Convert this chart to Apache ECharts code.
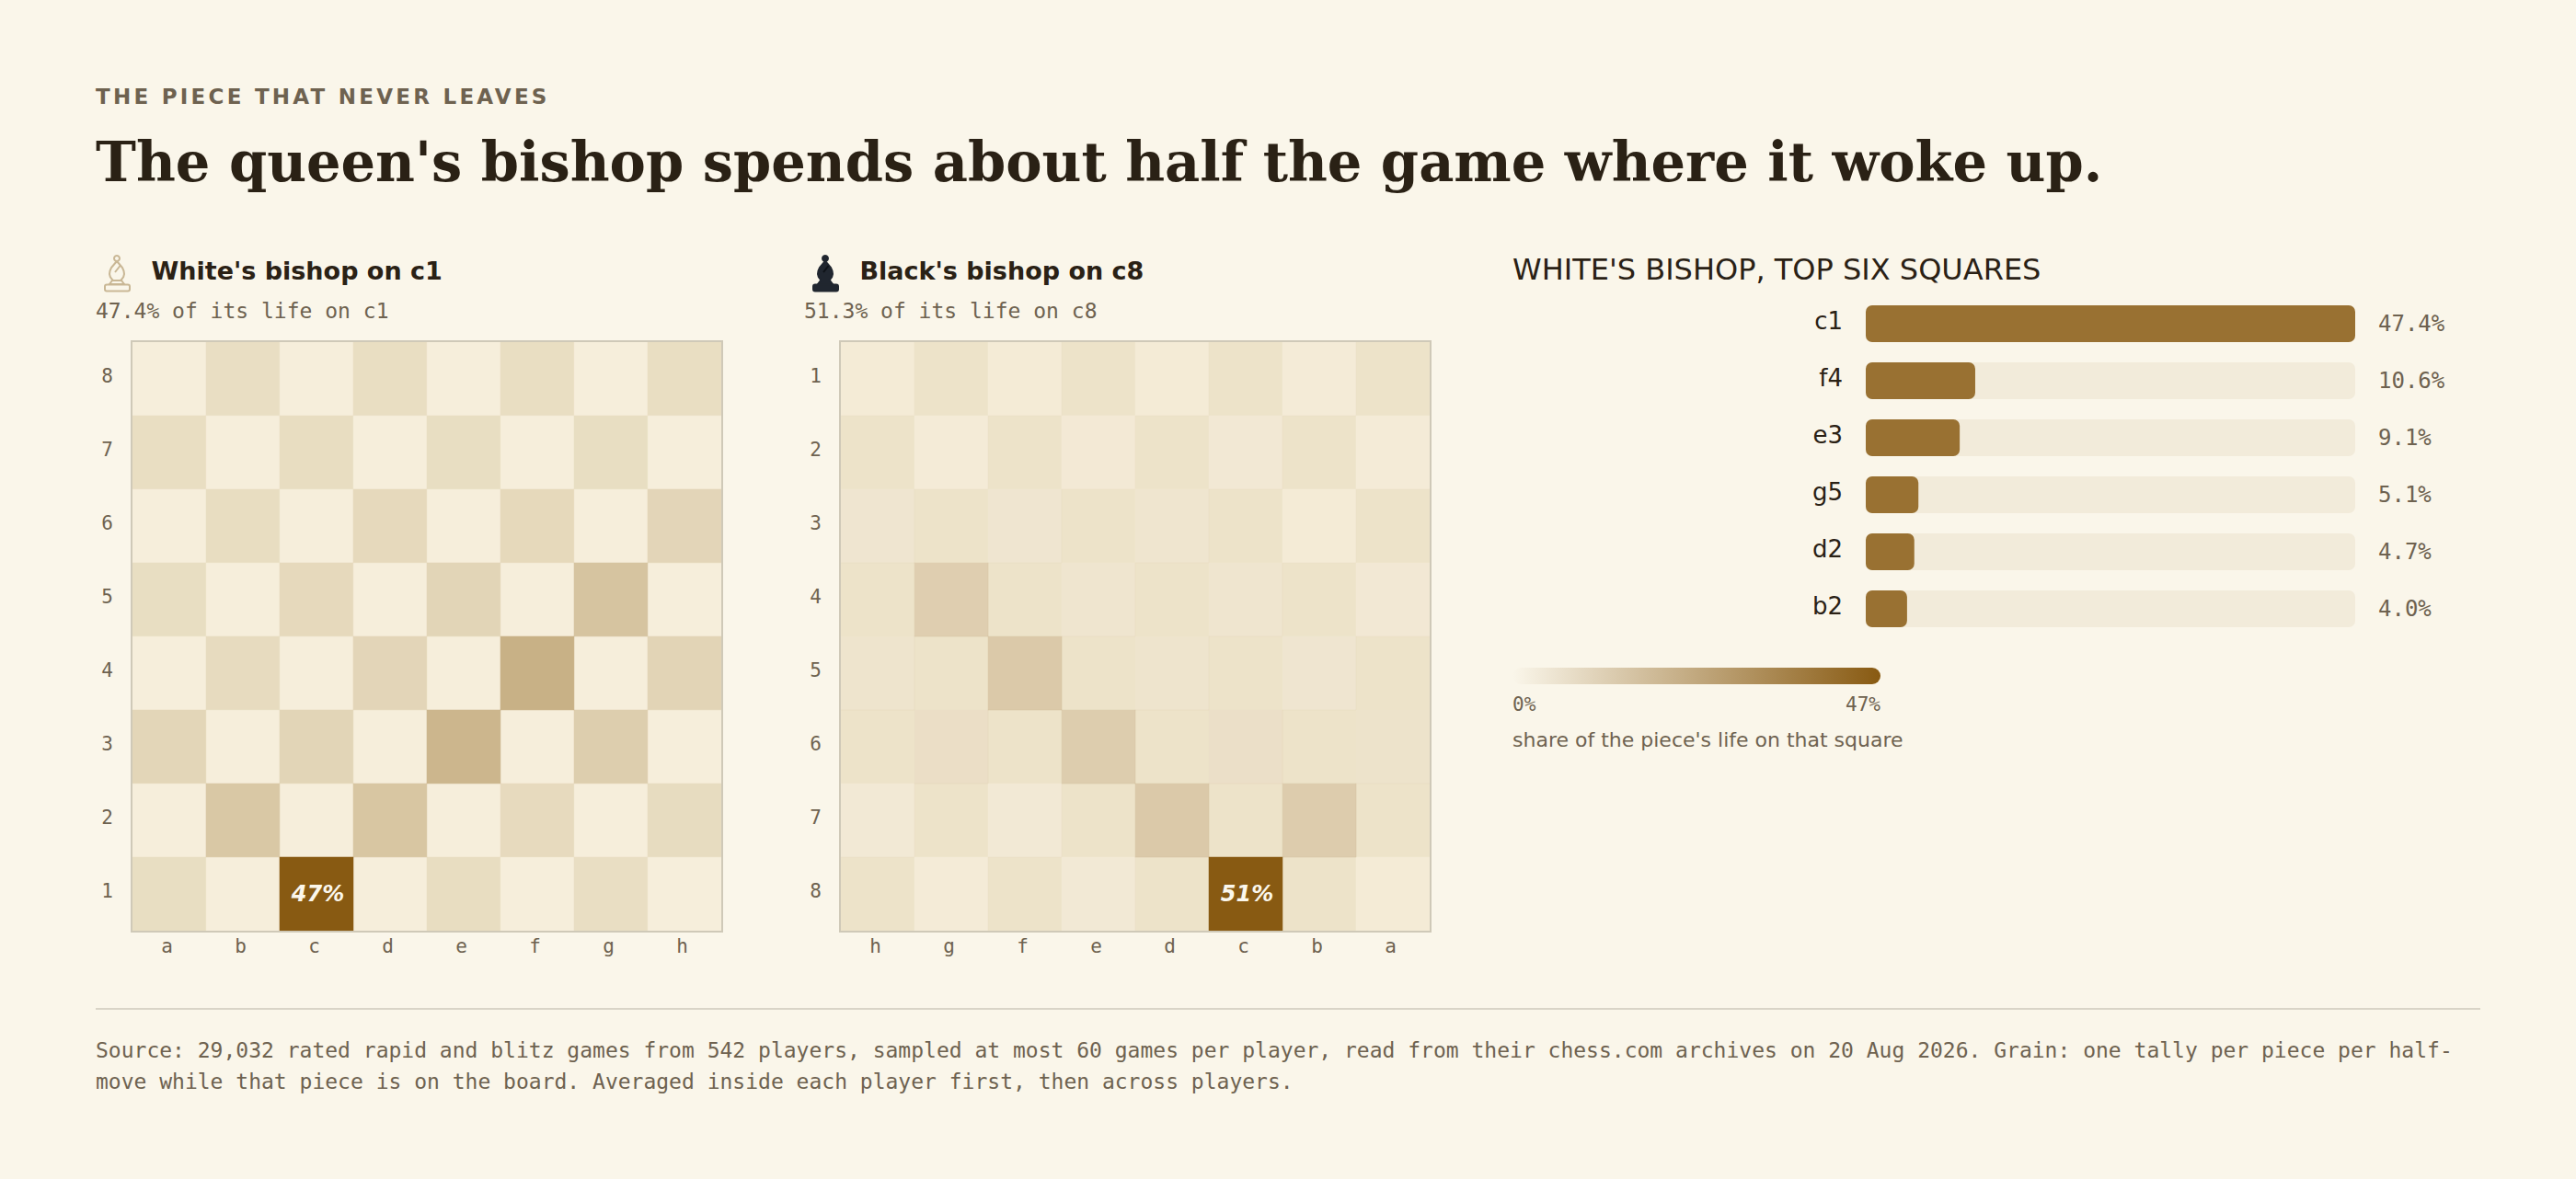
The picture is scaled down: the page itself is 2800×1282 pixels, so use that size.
<!DOCTYPE html>
<html><head><meta charset="utf-8">
<style>
html,body{margin:0;padding:0;background:#FAF6EA;width:2800px;height:1282px;overflow:hidden}
#c{position:absolute;left:0;top:0;width:2800px;height:1282px}
#k{position:absolute;left:104px;top:92px;font:bold 23px "DejaVu Sans";letter-spacing:3.25px;color:#6E6250;white-space:nowrap}
</style>
<script src="https://cdn.jsdelivr.net/npm/echarts@6/dist/echarts.min.js"></script>
</head><body>
<div id="c"></div>
<div id="k">THE PIECE THAT NEVER LEAVES</div>
<script>
const WHITE_FILES = ['a','b','c','d','e','f','g','h'];
const WHITE_RANKS = ['8','7','6','5','4','3','2','1'];
const BLACK_FILES = ['h','g','f','e','d','c','b','a'];
const BLACK_RANKS = ['1','2','3','4','5','6','7','8'];
const SHADE_ROWS = [
 [0,1,0,1,0,1,0,1],[1,0,1,0,1,0,1,0],[0,1,0,1,0,1,0,1],[1,0,1,0,1,0,1,0],
 [0,1,0,1,0,1,0,1],[1,0,1,0,1,0,1,0],[0,1,0,1,0,1,0,1],[1,0,1,0,1,0,1,0]];
const WHITE_SHARE = [
 [0,0.25,0,0.3,0,0.3,0,0.3],
 [0.3,0,0.45,0,0.4,0,0.35,0],
 [0,0.45,0,0.8,0,0.9,0,1.4],
 [0.4,0,0.8,0,1.5,0,5.1,0],
 [0,0.6,0,1.4,0,10.6,0,1.6],
 [1.3,0,1.5,0,9.1,0,2.8,0],
 [0,4.0,0,4.7,0,0.7,0,0.5],
 [0.35,0,47.4,0,0.45,0,0.25,0]];
const BLACK_SHARE = [
 [0.15,0,0.15,0,0.15,0,0.1,0],
 [0,0.1,0,0.2,0,0.3,0,0.1],
 [0.6,0,0.6,0,0.7,0,0.15,0],
 [0,4.7,0,0.7,0,0.7,0,0.3],
 [0.8,0,5.9,0,0.8,0,0.6,0],
 [0,1.6,0,5.1,0,1.4,0,1.0],
 [0.25,0,0.25,0,5.9,0,5.2,0],
 [0,0.1,0,0.25,0,51.3,0,0.15]];
const TOP_SQUARES = ['c1','f4','e3','g5','d2','b2'];
const TOP_SHARES = [47.4,10.6,9.1,5.1,4.7,4.0];
const SCALE_TOP = 47.4;

const INK='#2A2115', MUTED='#6E6250', BG='#FAF6EA';
const MONO='"DejaVu Sans Mono"', SANS='"DejaVu Sans"', SERIF='"DejaVu Serif"';

function cells(rows){const o=[];rows.forEach((r,y)=>r.forEach((v,x)=>o.push([x,y,v,Math.min(1,Math.pow(v/SCALE_TOP,0.67))])));return o;}
function boardGrid(left){return {left:left,top:372,width:640,height:640,show:false};}
function xAx(i,files){return {type:'category',gridIndex:i,data:files,position:'bottom',axisLine:{show:false},axisTick:{show:false},splitLine:{show:false},
  axisLabel:{margin:6,color:MUTED,fontFamily:MONO,fontSize:21,interval:0,padding:[0,5,0,0]}};}
function yAx(i,ranks){return {type:'category',gridIndex:i,data:ranks,inverse:true,axisLine:{show:false},axisTick:{show:false},splitLine:{show:false},
  axisLabel:{margin:21,color:MUTED,fontFamily:MONO,fontSize:21,interval:0,verticalAlign:'bottom',lineHeight:6}};}
function T(x,y,text,fs,ff,color,extra){return {type:'text',x:x,y:y,silent:true,z:20,style:Object.assign({text:text,fontSize:fs,fontFamily:ff,fill:color,verticalAlign:'middle',align:'left'},extra||{})};}
const BODY=[[127,284],[124,287.5],[121,291],[119.5,294.5],[119,298],[119.8,301],[122,304],[123,305],[131,305],[132,304],[134.2,301],[135,298],[134.5,294.5],[133,291],[130,287.5]];
function icon(dx,fill,stroke,slash){
  const ln={stroke:stroke,lineWidth:2,fill:fill};
  return {type:'group',x:dx,y:0,silent:true,z:20,children:[
    {type:'circle',shape:{cx:127,cy:281,r:3},style:ln},
    {type:'polygon',shape:{points:BODY},style:ln},
    {type:'polygon',shape:{points:[[122,305],[132,305],[135,309],[119,309]]},style:ln},
    {type:'rect',shape:{x:114,y:309.5,width:27,height:7,r:2},style:ln},
    {type:'line',shape:{x1:125,y1:296,x2:130.5,y2:289},style:{stroke:slash,lineWidth:2}}
  ]};
}
const cellLabel={show:true,formatter:p=>p.value[2]>=40?Math.round(p.value[2])+'%':'',color:'#FBF7EC',fontFamily:SANS,fontWeight:'bold',fontStyle:'italic',fontSize:24,padding:[0,0,0,3]};
const option={
 backgroundColor:BG,animation:false,
 grid:[boardGrid(144),boardGrid(914),{left:2028,top:321,width:532,height:372,show:false}],
 xAxis:[xAx(0,WHITE_FILES),xAx(1,BLACK_FILES),{type:'value',gridIndex:2,min:0,max:SCALE_TOP,show:false}],
 yAxis:[yAx(0,WHITE_RANKS),yAx(1,BLACK_RANKS),
  {type:'category',gridIndex:2,data:TOP_SQUARES,inverse:true,axisLine:{show:false},axisTick:{show:false},
   axisLabel:{margin:25,color:INK,fontFamily:SANS,fontSize:26,verticalAlign:'bottom',lineHeight:6}},
  {type:'category',gridIndex:2,position:'right',data:TOP_SHARES.map(v=>v.toFixed(1)+'%'),inverse:true,axisLine:{show:false},axisTick:{show:false},
   axisLabel:{margin:25,color:MUTED,fontFamily:MONO,fontSize:24,align:'left'}}],
 visualMap:[
  {show:false,type:'continuous',seriesIndex:[0,2],dimension:2,min:0,max:1,inRange:{color:['#F6EEDB','#EDE3C9']}},
  {show:false,type:'continuous',seriesIndex:[1,3],dimension:3,min:0,max:1,inRange:{color:['rgba(136,90,18,0)','rgba(136,90,18,1)']}}
 ],
 series:[
  {type:'heatmap',name:'white squares',xAxisIndex:0,yAxisIndex:0,data:cells(SHADE_ROWS),silent:true,itemStyle:{borderWidth:0}},
  {type:'heatmap',name:"White's bishop",xAxisIndex:0,yAxisIndex:0,data:cells(WHITE_SHARE),silent:true,itemStyle:{borderWidth:0},encode:{x:0,y:1},label:cellLabel},
  {type:'heatmap',name:'black squares',xAxisIndex:1,yAxisIndex:1,data:cells(SHADE_ROWS),silent:true,itemStyle:{borderWidth:0}},
  {type:'heatmap',name:"Black's bishop",xAxisIndex:1,yAxisIndex:1,data:cells(BLACK_SHARE),silent:true,itemStyle:{borderWidth:0},encode:{x:0,y:1},label:cellLabel},
  {type:'bar',name:'Top six',xAxisIndex:2,yAxisIndex:2,data:TOP_SHARES,barWidth:40,silent:true,
   itemStyle:{color:'#997132',borderRadius:7},showBackground:true,backgroundStyle:{color:'#F2EBDA',borderRadius:7}}
 ],
 graphic:{elements:[
  T(104,176,"The queen's bishop spends about half the game where it woke up.",59,SERIF,INK,{fontWeight:'bold'}),
  icon(0,BG,'#C9B795','#C9B795'),
  icon(770,'#20262F','#20262F','#0E1218'),
  T(164.5,294,"White's bishop on c1",27,SANS,INK,{fontWeight:'bold'}),
  T(934.5,294,"Black's bishop on c8",27,SANS,INK,{fontWeight:'bold'}),
  T(104,338,'47.4% of its life on c1',23,MONO,MUTED),
  T(874,338,'51.3% of its life on c8',23,MONO,MUTED),
  T(1644,293,"WHITE'S BISHOP, TOP SIX SQUARES",32,SANS,INK),
  {type:'rect',silent:true,z:15,shape:{x:143,y:371,width:642,height:642},style:{fill:'none',stroke:'#CFC9B8',lineWidth:2}},
  {type:'rect',silent:true,z:15,shape:{x:913,y:371,width:642,height:642},style:{fill:'none',stroke:'#CFC9B8',lineWidth:2}},
  {type:'rect',silent:true,z:15,shape:{x:1644,y:726,width:400,height:18,r:9},style:{fill:{type:'linear',x:0,y:0,x2:1,y2:0,colorStops:[{offset:0,color:BG},{offset:1,color:'#885A12'}]}}},
  T(1644,766,'0%',21,MONO,MUTED),
  T(2044,766,'47%',21,MONO,MUTED,{align:'right'}),
  T(1644,804,"share of the piece's life on that square",22,SANS,MUTED),
  {type:'rect',silent:true,z:15,shape:{x:104,y:1096,width:2592,height:2},style:{fill:'#D9D4C7'}},
  T(104,1142,'Source: 29,032 rated rapid and blitz games from 542 players, sampled at most 60 games per player, read from their chess.com archives on 20 Aug 2026. Grain: one tally per piece per half-',23,MONO,MUTED),
  T(104,1176,'move while that piece is on the board. Averaged inside each player first, then across players.',23,MONO,MUTED)
 ]}
};
const chart=echarts.init(document.getElementById('c'),null,{renderer:'svg',width:2800,height:1282});
chart.setOption(option);
</script>
</body></html>
